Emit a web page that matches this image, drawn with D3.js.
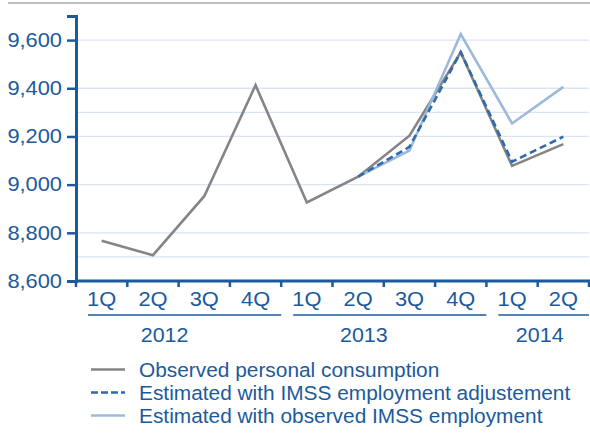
<!DOCTYPE html>
<html>
<head>
<meta charset="utf-8">
<script src="https://cdn.jsdelivr.net/npm/d3@7"></script>
<style>
  html, body { margin: 0; padding: 0; background: #fff; }
  svg { display: block; font-family: "Liberation Sans", Arial, sans-serif; }
</style>
</head>
<body>
<svg id="chart" width="590" height="433"></svg>
<script>
// Quarterly personal consumption (index level)
const quarters = ["1Q", "2Q", "3Q", "4Q", "1Q", "2Q", "3Q", "4Q", "1Q", "2Q"];
const years = ["2012", "2013", "2014"];
const yearQuarterCounts = [4, 4, 2];
const yTicks = [8600, 8800, 9000, 9200, 9400, 9600];
const gridValues = [8700, 8800, 9000, 9200, 9300, 9400, 9600];

const observed = [8767, 8707, 8952, 9413, 8926, 9033, 9203, 9549, 9078, 9168];
// estimates start at 2013 2Q (index 5)
const estAdjusted = [null, null, null, null, null, 9033, 9157, 9550, 9095, 9199];
const estObserved = [null, null, null, null, null, 9033, 9141, 9625, 9254, 9406];

const seriesNames = [
  "Observed personal consumption",
  "Estimated with IMSS employment adjustement",
  "Estimated with observed IMSS employment"
];

const blue = "#1b5a9c";
const fontSize = 19.5;
const svg = d3.select("#chart");

// widen glyphs horizontally around each text's anchor point
function widen(sel, sx) {
  sel.each(function () {
    const t = d3.select(this);
    const tx = +t.attr("x") || 0, ty = +t.attr("y") || 0;
    t.attr("x", 0).attr("y", 0)
      .attr("transform", `translate(${tx},${ty}) scale(${sx},1)`);
  });
}

const x = d3.scaleBand().domain(d3.range(quarters.length)).range([76, 589]).padding(0);
const y = d3.scaleLinear().domain([8600, 9700]).range([281, 16]);

// top rule
svg.append("line").attr("x1", 8).attr("x2", 590).attr("y1", 3).attr("y2", 3)
  .attr("stroke", "#aaaaaa").attr("stroke-width", 1.5);

// gridlines
svg.append("g").selectAll("line").data(gridValues).join("line")
  .attr("x1", 78).attr("x2", 589)
  .attr("y1", d => y(d)).attr("y2", d => y(d))
  .attr("stroke", "#dbe5f1").attr("stroke-width", 1.3);

// y axis
const yAxis = svg.append("g").attr("transform", "translate(76,0)")
  .call(d3.axisLeft(y).tickValues(yTicks).tickFormat(d3.format(",")).tickSize(9).tickPadding(5));
yAxis.select(".domain").attr("stroke", blue).attr("stroke-width", 3);
yAxis.selectAll(".tick line").attr("stroke", blue).attr("stroke-width", 2.5);
yAxis.selectAll(".tick text").attr("fill", blue).attr("font-size", fontSize)
  .attr("font-family", "Liberation Sans, Arial, sans-serif")
  .call(widen, 1.12);

// x axis line and boundary ticks
svg.append("line").attr("x1", 76).attr("x2", 590).attr("y1", y(8600)).attr("y2", y(8600))
  .attr("stroke", blue).attr("stroke-width", 3);
const boundaries = d3.range(quarters.length + 1).map(i => i < quarters.length ? x(i) : x(i - 1) + x.bandwidth());
svg.append("g").selectAll("line").data(boundaries).join("line")
  .attr("x1", d => d).attr("x2", d => d)
  .attr("y1", y(8600)).attr("y2", y(8600) + 6)
  .attr("stroke", blue).attr("stroke-width", 2.5);

// quarter labels
svg.append("g").selectAll("text").data(quarters).join("text")
  .attr("x", (d, i) => x(i) + x.bandwidth() / 2)
  .attr("y", 306)
  .attr("text-anchor", "middle")
  .attr("fill", blue).attr("font-size", fontSize)
  .text(d => d)
  .call(widen, 1.12);

// year groups: underline and label
let start = 0;
const groups = years.map((yr, k) => {
  const g = { year: yr, first: start, last: start + yearQuarterCounts[k] - 1 };
  start += yearQuarterCounts[k];
  return g;
});
const yearLabelShift = [-14, -20, 2];
const gYears = svg.append("g");
groups.forEach((g, k) => {
  const x0 = x(g.first) + 12;
  const x1 = Math.min(x(g.last) + x.bandwidth(), 589);
  gYears.append("line").attr("x1", x0).attr("x2", x1).attr("y1", 315).attr("y2", 315)
    .attr("stroke", blue).attr("stroke-width", 1.5);
  gYears.append("text")
    .attr("x", (x(g.first) + x(g.last) + x.bandwidth()) / 2 + yearLabelShift[k])
    .attr("y", 342).attr("text-anchor", "middle")
    .attr("fill", blue).attr("font-size", fontSize).text(g.year)
    .call(widen, 1.1);
});

// series lines
const line = d3.line()
  .defined(d => d != null)
  .x((d, i) => x(i) + x.bandwidth() / 2)
  .y(d => y(d));

const styles = [
  { data: observed, color: "#858585", dash: null },
  { data: estObserved, color: "#9bb9da", dash: null },
  { data: estAdjusted, color: "#2e6aae", dash: "7,4" }
];
styles.forEach(s => {
  svg.append("path").datum(s.data)
    .attr("d", line)
    .attr("fill", "none")
    .attr("stroke", s.color)
    .attr("stroke-width", 2.6)
    .attr("stroke-linejoin", "miter")
    .attr("stroke-dasharray", s.dash);
});

// legend
const legendItems = [
  { name: seriesNames[0], color: "#858585", dash: null },
  { name: seriesNames[1], color: "#2e6aae", dash: "7,3" },
  { name: seriesNames[2], color: "#9bb9da", dash: null }
];
const legend = svg.append("g");
legendItems.forEach((it, i) => {
  const cy = 369.5 + i * 23;
  legend.append("line").attr("x1", 91).attr("x2", 125).attr("y1", cy).attr("y2", cy)
    .attr("stroke", it.color).attr("stroke-width", 2.6).attr("stroke-dasharray", it.dash);
  legend.append("text").attr("x", 139).attr("y", cy + 7.5)
    .attr("fill", blue).attr("font-size", fontSize).text(it.name)
    .call(widen, 1.07);
});
</script>
</body>
</html>
